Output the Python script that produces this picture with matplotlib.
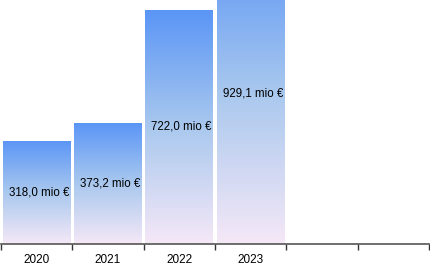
import matplotlib.pyplot as plt
import numpy as np
from matplotlib.colors import LinearSegmentedColormap

years = ['2020', '2021', '2022', '2023']
values = [318.0, 373.2, 722.0, 929.1]
labels = ['318,0 mio €', '373,2 mio €', '722,0 mio €', '929,1 mio €']

plt.rcParams['font.family'] = ['Liberation Sans', 'DejaVu Sans']

fig = plt.figure(figsize=(4.30, 2.69), dpi=100)
ax = fig.add_axes([1 / 430, 25 / 269, 428 / 430, 244 / 269])

cmap = LinearSegmentedColormap.from_list('grad', ['#f5e8f7', '#a9c8ee', '#5a95f6'])
grad = np.linspace(0, 1, 256).reshape(-1, 1)

x = np.arange(len(years))
bars = ax.bar(x, values, width=0.95, color='none', edgecolor='none')
for b, v, lab in zip(bars, values, labels):
    x0 = b.get_x()
    im = ax.imshow(grad, cmap=cmap, origin='lower', aspect='auto',
                   extent=[x0, x0 + b.get_width(), 0, v], zorder=1)
    im.set_clip_path(b)
    ax.text(b.get_x() + b.get_width() / 2 + 0.03, v / 2, lab,
            ha='center', va='center', fontsize=8.3, color='#000000', zorder=3)

ax.set_xlim(-0.5, 5.5)
ax.set_ylim(0, 752)
ax.set_xticks(np.arange(-0.5, 6, 1.0))
ax.set_xticklabels([])
ax.set_xticks(x, minor=True)
ax.set_xticklabels(years, minor=True, fontsize=8.5)
ax.tick_params(axis='x', which='major', length=4, width=1, color='#333333', direction='out')
ax.tick_params(axis='x', which='minor', length=0, pad=7)
ax.set_yticks([])
for s in ['top', 'right', 'left']:
    ax.spines[s].set_visible(False)
ax.spines['bottom'].set_color('#555555')
ax.spines['bottom'].set_linewidth(1.2)
ax.set_facecolor('none')

fig.savefig('out.png', dpi=100)
